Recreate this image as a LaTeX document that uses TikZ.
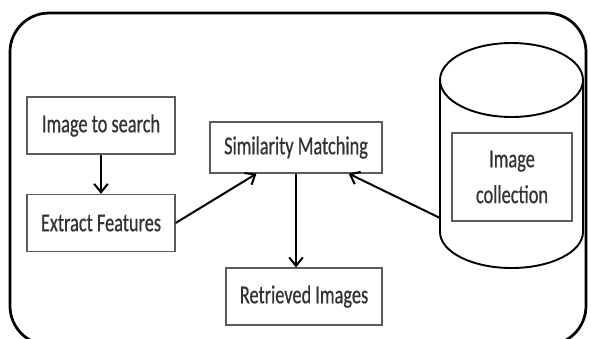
\documentclass[tikz,border=0pt]{standalone}
\usepackage{fontspec}
\usetikzlibrary{arrows.meta,calc}
\newfontfamily\diafont[FakeStretch=0.71,FakeBold=0.6]{Carlito}
\definecolor{boxgray}{HTML}{5C5C5C}
\definecolor{txtgray}{HTML}{333333}
\begin{document}
\begin{tikzpicture}[
    box/.style={draw=boxgray,line width=1.2pt,fill=white,text=txtgray,
                inner sep=0pt,align=center,
                font=\diafont\fontsize{24.5}{34}\selectfont},
    flow/.style={line width=1.9pt,-{Straight Barb[length=8pt,width=13pt]}}]
  \useasboundingbox (0,0) rectangle (19.7,11.267);

  % ---- Frame ---------------------------------------------------
  \draw[line width=2.6pt,rounded corners=1.3cm] (0.333,-0.233) rectangle (19.533,10.833);

  % ---- Query side ----------------------------------------------
  \node[box,minimum width=4.93cm,minimum height=1.9cm] (query) at (3.367,7.083) {Image to search};
  \node[box,minimum width=4.93cm,minimum height=1.9cm] (extract) at (3.367,3.833) {Extract Features};

  % ---- Matching and result -------------------------------------
  \node[box,minimum width=5.73cm,minimum height=1.7cm] (match) at (9.867,6.35) {Similarity Matching};
  \node[box,minimum width=5.2cm,minimum height=1.9cm] (result) at (10.133,1.383) {Retrieved Images};

  % ---- Image collection (cylinder) -----------------------------
  \draw[line width=1.8pt] (14.667,8.6) -- (14.667,3.533) arc (180:360:2.383 and 1.2) -- (19.433,8.6);
  \draw[line width=1.8pt] (17.05,8.6) ellipse (2.383 and 1.233);
  \coordinate (store) at (14.667,4.0);
  \node[box,minimum width=4.0cm,minimum height=2.93cm] (coll) at (17.067,5.367) {Image\\collection};

  % ---- Connectors ----------------------------------------------
  \draw[flow] (query) -- (extract);
  \draw[flow] (extract.east) -- ($(match.south west)+(1.57,0)$);
  \draw[flow] (match.south) -- (match.south |- result.north);
  \draw[flow] (store) -- ($(match.south east)+(-1.13,0)$);

\end{tikzpicture}
\end{document}
